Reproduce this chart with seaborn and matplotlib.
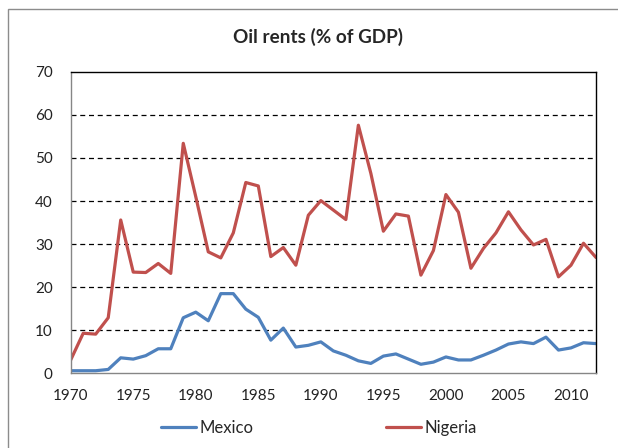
import pandas as pd
import matplotlib
matplotlib.use("Agg")
import matplotlib.pyplot as plt
from matplotlib.patches import Rectangle
from matplotlib.ticker import MultipleLocator
import seaborn as sns

# Oil rents (% of GDP), 1970-2012
years = list(range(1970, 2013))
mexico = [0.6, 0.6, 0.6, 0.9, 3.6, 3.3, 4.1, 5.7, 5.7, 12.9,
          14.2, 12.2, 18.5, 18.5, 14.9, 13.0, 7.7, 10.5, 6.1, 6.5,
          7.3, 5.2, 4.2, 2.9, 2.3, 4.0, 4.5, 3.3, 2.1, 2.6,
          3.8, 3.1, 3.1, 4.2, 5.4, 6.8, 7.3, 6.9, 8.4, 5.4,
          5.9, 7.1, 6.9]
nigeria = [3.1, 9.3, 9.1, 12.9, 35.6, 23.5, 23.4, 25.5, 23.2, 53.4,
           41.0, 28.2, 26.8, 32.6, 44.3, 43.5, 27.1, 29.2, 25.1, 36.7,
           40.1, 37.9, 35.7, 57.6, 46.4, 33.0, 37.0, 36.5, 22.8, 28.5,
           41.5, 37.4, 24.4, 29.0, 32.6, 37.5, 33.3, 29.8, 31.1, 22.4,
           25.1, 30.2, 26.9]
countries = ["Mexico", "Nigeria"]
colors = ["#4F81BD", "#C0504D"]

df = pd.DataFrame({
    "Year": years * 2,
    "Rent": mexico + nigeria,
    "Country": ["Mexico"] * len(years) + ["Nigeria"] * len(years),
})

sns.set_style("white")
plt.rcParams["font.family"] = ["Lato", "DejaVu Sans"]

fig = plt.figure(figsize=(6.18, 4.48), dpi=100)
ax = fig.add_axes([0.1144, 0.1667, 0.850, 0.673])

sns.lineplot(data=df, x="Year", y="Rent", hue="Country", hue_order=countries,
             palette=colors, linewidth=2.3, ax=ax, legend=False)

ax.set_xlim(1970, 2012)
ax.set_ylim(0, 70)
ax.xaxis.set_major_locator(MultipleLocator(5))
ax.xaxis.set_minor_locator(MultipleLocator(1))
ax.yaxis.set_major_locator(MultipleLocator(10))
ax.set_xlabel("")
ax.set_ylabel("")

for y in range(10, 70, 10):
    ax.axhline(y, color="black", linewidth=0.9, linestyle=(0, (4, 3)), zorder=0)

for side in ["top", "right"]:
    ax.spines[side].set_color("black")
    ax.spines[side].set_linewidth(1)
for side in ["left", "bottom"]:
    ax.spines[side].set_color("#868686")
    ax.spines[side].set_linewidth(1)

ax.tick_params(axis="both", which="both", direction="out", color="#868686",
               length=5, width=0.8, labelsize=11, labelcolor="#222222")
ax.tick_params(axis="y", pad=8)
ax.tick_params(axis="x", pad=6)

fig.text(0.515, 0.917, "Oil rents (% of GDP)", ha="center", va="center",
         fontsize=13.6, fontweight="bold")

handles = [plt.Line2D([], [], color=c, linewidth=2.3) for c in colors]
fig.legend(handles, countries, loc="center", bbox_to_anchor=(0.516, 0.045),
           ncol=2, frameon=False, fontsize=12, handlelength=2.1,
           handletextpad=0.2, columnspacing=8.0)

fig.patches.append(Rectangle((8 / 618, -0.1), 1.2, 1 - 9 / 448 + 0.1,
                             transform=fig.transFigure, fill=False,
                             edgecolor="#8c8c8c", linewidth=1))

fig.savefig("out.png", dpi=100)
